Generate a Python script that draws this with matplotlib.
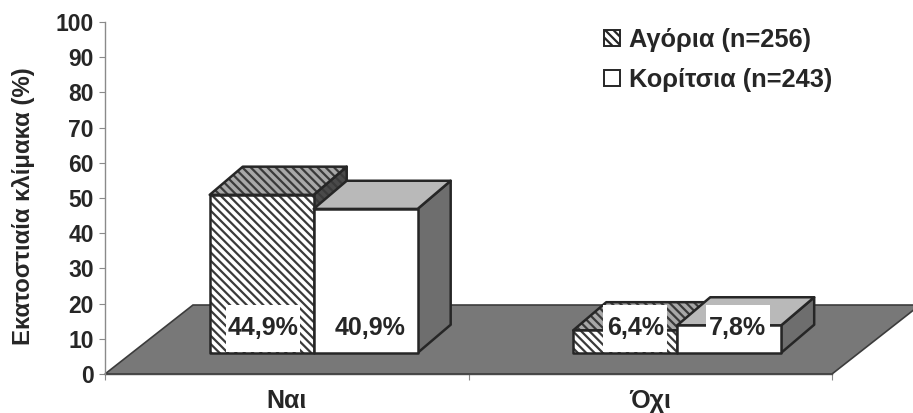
import matplotlib
matplotlib.use('Agg')
import matplotlib.pyplot as plt
from matplotlib.patches import Polygon, Rectangle, Patch

# Data
categories = ['Ναι', 'Όχι']
series_names = ['Αγόρια (n=256)', 'Κορίτσια (n=243)']
boys = [44.9, 6.4]
girls = [40.9, 7.8]
boys_labels = ['44,9%', '6,4%']
girls_labels = ['40,9%', '7,8%']
y_ticks = list(range(0, 101, 10))

plt.rcParams['font.family'] = ['Liberation Sans', 'DejaVu Sans']
plt.rcParams['font.weight'] = 'bold'
plt.rcParams['hatch.linewidth'] = 1.6

INK = '#262626'
FLOOR = '#787878'
SIDE = '#6e6e6e'
TOP_GIRLS = '#b9b9b9'
TOP_BOYS = '#a8a8a8'

W, H = 913, 413
fig = plt.figure(figsize=(W / 100, H / 100), dpi=100)
ax = fig.add_axes([105 / W, 1 - 374 / H, 727 / W, 352 / H])
ax.set_xlim(-0.5, 1.5)
ax.set_ylim(0, 100)

# 3D look, in axis units
floor_dx, floor_dy = 0.242, 19.6
box_dx, box_dy = 0.091, 8.0
gap_dx, gap_dy = 0.074, 6.0
bar_w = 0.286


def add_poly(pts, color, hatch=None, z=3):
    if hatch:
        ax.add_patch(Polygon(pts, facecolor=color, edgecolor='#3a3a3a', hatch=hatch,
                             lw=0, zorder=z, clip_on=False))
        ax.add_patch(Polygon(pts, fill=False, edgecolor=INK, lw=1.8, zorder=z,
                             clip_on=False, joinstyle='round'))
    else:
        ax.add_patch(Polygon(pts, facecolor=color, edgecolor=INK, lw=1.8, zorder=z,
                             clip_on=False, joinstyle='round'))


def draw_box(x0, x1, value, front, top, side, hatch=None, z=3):
    y0 = gap_dy
    y1 = gap_dy + value
    add_poly([(x1, y0), (x1 + box_dx, y0 + box_dy), (x1 + box_dx, y1 + box_dy), (x1, y1)],
             side, hatch, z)
    add_poly([(x0, y1), (x1, y1), (x1 + box_dx, y1 + box_dy), (x0 + box_dx, y1 + box_dy)],
             top, hatch, z)
    add_poly([(x0, y0), (x1, y0), (x1, y1), (x0, y1)], front, hatch, z)


# floor
ax.add_patch(Polygon([(-0.5, 0), (1.5, 0), (1.5 + floor_dx, floor_dy), (-0.5 + floor_dx, floor_dy)],
                     facecolor=FLOOR, edgecolor='#3c3c3c', lw=1.2, zorder=1, clip_on=False))

# bars, labels with their white boxes
for i in range(len(categories)):
    xc = i + gap_dx
    draw_box(xc - bar_w, xc, boys[i], 'white', TOP_BOYS, '#4a4a4a', hatch='\\\\\\\\', z=3 + i)
    draw_box(xc, xc + bar_w, girls[i], 'white', TOP_GIRLS, SIDE, z=3.5 + i)

    for lab, off, tw in [(boys_labels[i], -0.14 if i == 0 else -0.115, 0.205 if i == 0 else 0.176),
                         (girls_labels[i], 0.155 if i == 0 else 0.167, 0.205 if i == 0 else 0.175)]:
        ax.add_patch(Rectangle((xc + off - tw / 2, gap_dy + 0.3), tw, 13.4, facecolor='white',
                               edgecolor='none', zorder=8, clip_on=False))
        ax.text(xc + off, 13.0, lab, ha='center', va='center', fontsize=18,
                color=INK, zorder=9)

# axes
for s in ['top', 'right', 'bottom']:
    ax.spines[s].set_visible(False)
ax.spines['left'].set_color('#8a8a8a')
ax.spines['left'].set_linewidth(1.0)
ax.set_yticks(y_ticks)
ax.set_yticklabels([str(v) for v in y_ticks], fontsize=16.5, color=INK)
ax.tick_params(axis='y', length=4, width=0.8, color='#8a8a8a', pad=4)
ax.set_xticks([-0.5, 0.5, 1.5])
ax.set_xticklabels([])
ax.tick_params(axis='x', length=4, width=0.8, color='#8a8a8a')
ax.plot([-0.5, 1.5], [0, 0], color='#4a4a4a', lw=1.0, zorder=2, clip_on=False)

for i, c in enumerate(categories):
    ax.text(i, -7.8, c, ha='center', va='center', fontsize=18, color=INK, clip_on=False)

ax.set_ylabel('Εκατοστιαία κλίμακα (%)', fontsize=17.3, color=INK, fontweight='bold')
ax.yaxis.set_label_coords(-0.096, 0.477)

# legend
handles = [Patch(facecolor='white', edgecolor=INK, hatch='\\\\\\\\', lw=1.4, label=series_names[0]),
           Patch(facecolor='white', edgecolor=INK, lw=1.4, label=series_names[1])]
fig.legend(handles=handles, loc='upper left', bbox_to_anchor=(604 / W, 1 - 28 / H), frameon=False,
           fontsize=18.3, labelcolor=INK, handlelength=0.62, handleheight=0.62,
           handletextpad=0.35, labelspacing=0.62, borderpad=0, borderaxespad=0)

fig.savefig('out.png', dpi=100)
